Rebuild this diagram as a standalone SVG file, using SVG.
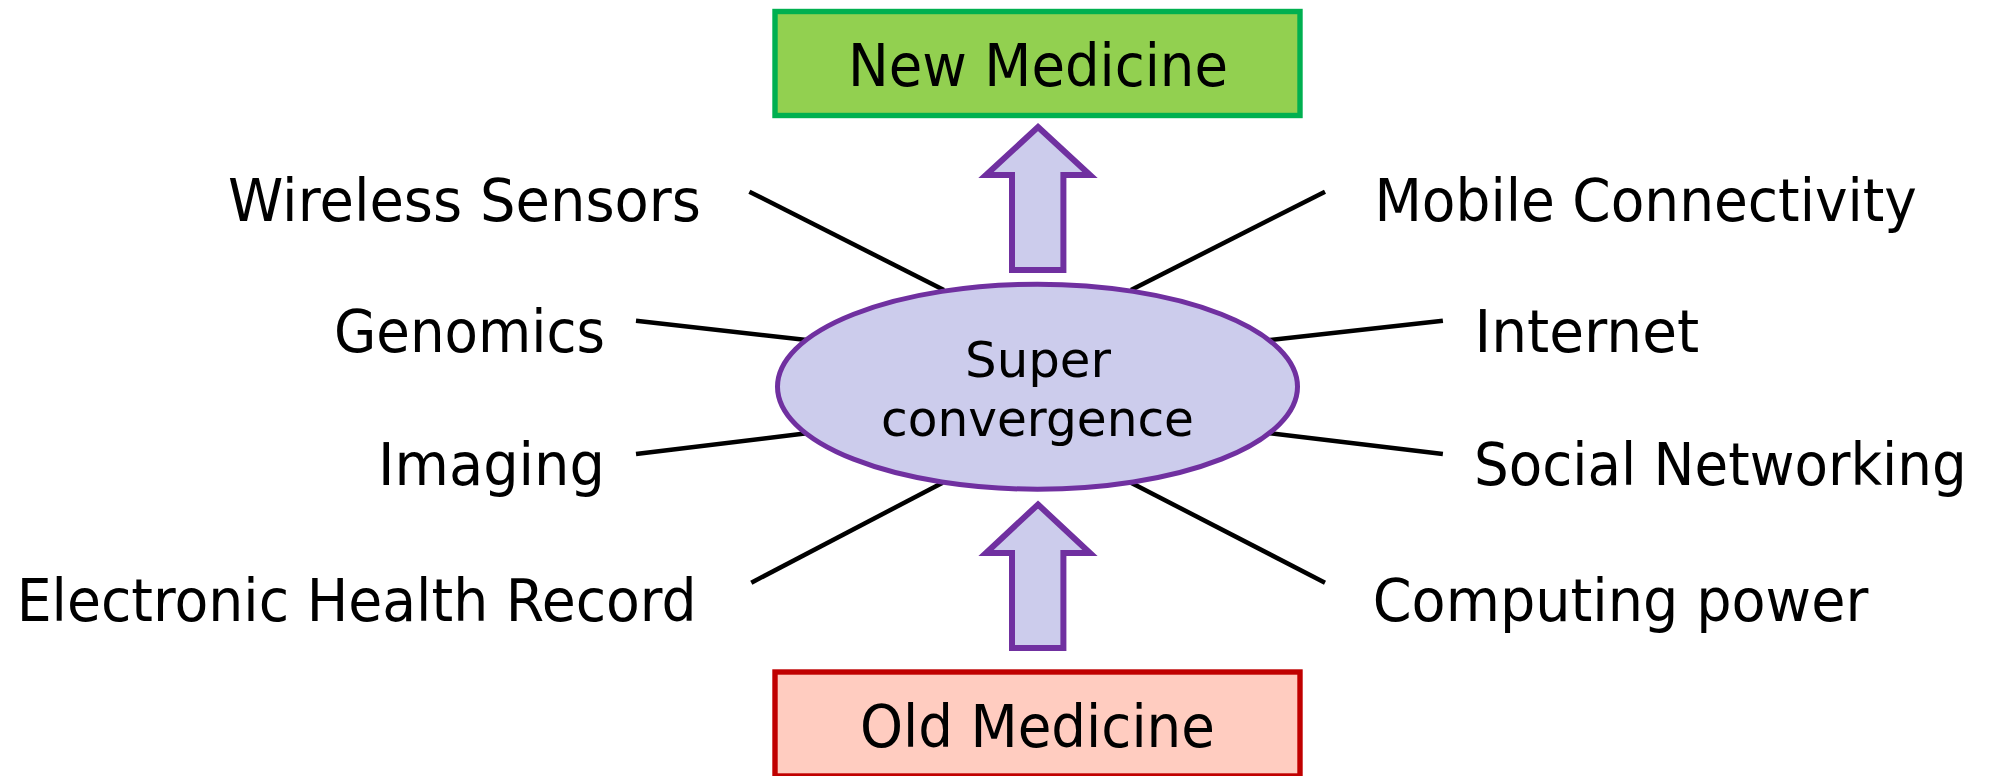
<svg xmlns="http://www.w3.org/2000/svg" width="1995" height="776" viewBox="0 0 1995 776">
  <style>
    text { font-family: "DejaVu Sans", Verdana, sans-serif; fill: #000; }
    .lbl { font-size: 58px; }
    .core { font-size: 50px; }
    .spoke { stroke: #000; stroke-width: 4.5; fill: none; }
    .flow { fill: #CCCCEC; stroke: #7030A0; stroke-width: 6; stroke-linejoin: miter; }
  </style>
  <rect width="1995" height="776" fill="#ffffff"/>

  <!-- spokes linking each factor to the central ellipse -->
  <g id="connectors">
    <line class="spoke" x1="749.4" y1="191.7" x2="943.9" y2="290"/>
    <line class="spoke" x1="636" y1="320.7" x2="806.7" y2="340"/>
    <line class="spoke" x1="636" y1="454" x2="806.7" y2="433.3"/>
    <line class="spoke" x1="751.3" y1="582.7" x2="942.6" y2="482.7"/>
    <line class="spoke" x1="1325" y1="191.7" x2="1131" y2="290"/>
    <line class="spoke" x1="1442.9" y1="320.7" x2="1270" y2="340"/>
    <line class="spoke" x1="1270" y1="433.3" x2="1442.9" y2="454"/>
    <line class="spoke" x1="1131" y1="482.7" x2="1325" y2="582.7"/>
    <!-- block arrows: old -> convergence -> new -->
    <path id="arrow-up" class="flow" d="M1038,127 L1090,175 L1063.4,175 L1063.4,270 L1012,270 L1012,175 L986,175 Z"/>
    <path id="arrow-in" class="flow" d="M1038,504.5 L1090,553 L1063.4,553 L1063.4,648 L1012,648 L1012,553 L986,553 Z"/>
  </g>

  <g id="new-medicine">
    <rect x="775" y="11.5" width="525" height="104" fill="#92D050" stroke="#00B050" stroke-width="5.4"/>
    <text class="lbl" x="848" y="86" textLength="380" lengthAdjust="spacingAndGlyphs">New Medicine</text>
  </g>

  <g id="old-medicine">
    <rect x="775" y="672" width="525" height="104" fill="#FFCCC0" stroke="#C00000" stroke-width="5.4"/>
    <text class="lbl" x="860" y="747" textLength="355" lengthAdjust="spacingAndGlyphs">Old Medicine</text>
  </g>

  <g id="super-convergence">
    <ellipse cx="1037.5" cy="386.7" rx="260" ry="102.5" fill="#CCCCEC" stroke="#7030A0" stroke-width="5"/>
    <text class="core" x="965" y="377" textLength="146" lengthAdjust="spacingAndGlyphs">Super</text>
    <text class="core" x="881" y="436" textLength="313" lengthAdjust="spacingAndGlyphs">convergence</text>
  </g>

  <g id="wireless-sensors">
    <text class="lbl" x="228" y="221" textLength="473" lengthAdjust="spacingAndGlyphs">Wireless Sensors</text>
  </g>
  <g id="genomics">
    <text class="lbl" x="334" y="352" textLength="271" lengthAdjust="spacingAndGlyphs">Genomics</text>
  </g>
  <g id="imaging">
    <text class="lbl" x="378" y="485" textLength="227" lengthAdjust="spacingAndGlyphs">Imaging</text>
  </g>
  <g id="electronic-health-record">
    <text class="lbl" x="16.7" y="621" textLength="680" lengthAdjust="spacingAndGlyphs">Electronic Health Record</text>
  </g>
  <g id="mobile-connectivity">
    <text class="lbl" x="1374.4" y="221" textLength="542.5" lengthAdjust="spacingAndGlyphs">Mobile Connectivity</text>
  </g>
  <g id="internet">
    <text class="lbl" x="1474.6" y="352" textLength="224.6" lengthAdjust="spacingAndGlyphs">Internet</text>
  </g>
  <g id="social-networking">
    <text class="lbl" x="1474" y="485" textLength="492.7" lengthAdjust="spacingAndGlyphs">Social Networking</text>
  </g>
  <g id="computing-power">
    <text class="lbl" x="1372.7" y="621" textLength="495.6" lengthAdjust="spacingAndGlyphs">Computing power</text>
  </g>
</svg>
